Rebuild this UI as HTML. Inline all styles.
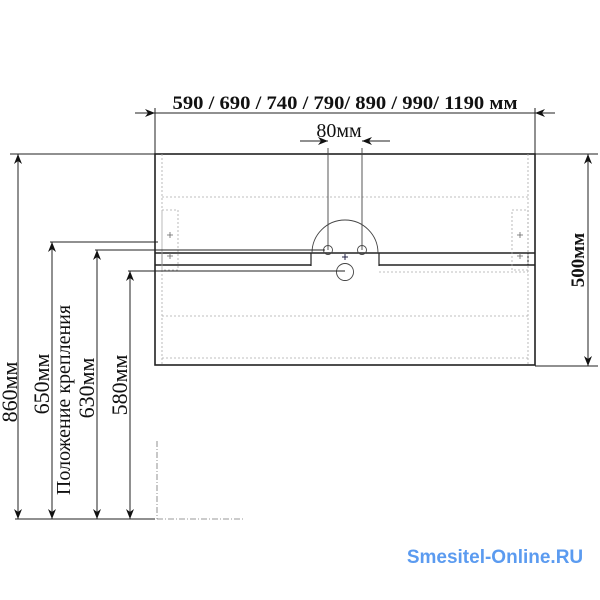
<!DOCTYPE html>
<html><head><meta charset="utf-8"><style>
body{margin:0;background:#fff;width:600px;height:600px;overflow:hidden}
svg{display:block}
text{font-family:"Liberation Serif","DejaVu Serif",serif;fill:#111}
</style></head><body>
<svg width="600" height="600" viewBox="0 0 600 600" xmlns="http://www.w3.org/2000/svg">
<defs>
<marker id="a" viewBox="0 0 10 10" refX="10" refY="5" markerWidth="10" markerHeight="10" orient="auto-start-reverse" markerUnits="userSpaceOnUse"><path d="M0,1 L10,5 L0,9 L3,5 Z" fill="#111"/></marker>
</defs>
<g stroke="#222" fill="none">
<rect x="155" y="154" width="380" height="211" stroke-width="1.6"/>
<line x1="155" y1="253" x2="535" y2="253" stroke-width="1.6"/>
<line x1="155" y1="265" x2="311" y2="265" stroke-width="1.6"/>
<line x1="379" y1="265" x2="535" y2="265" stroke-width="1.6"/>
<line x1="311" y1="253" x2="311" y2="266" stroke-width="1.2"/>
<line x1="379" y1="253" x2="379" y2="266" stroke-width="1.2"/>
<line x1="162" y1="253" x2="162" y2="265" stroke-width="1"/>
<line x1="528" y1="253" x2="528" y2="265" stroke-width="1"/>
</g>
<g stroke="#aaa" stroke-dasharray="2,2" fill="none" stroke-width="0.8">
<line x1="162" y1="197" x2="528" y2="197"/>
<line x1="162" y1="316" x2="528" y2="316"/>
<line x1="162" y1="358" x2="528" y2="358"/>
<line x1="162" y1="154" x2="162" y2="365"/>
<line x1="528" y1="154" x2="528" y2="365"/>
<rect x="162" y="210" width="16" height="60"/>
<rect x="512" y="210" width="16" height="60"/>
<line x1="379" y1="272" x2="528" y2="272"/>
</g>
<g stroke="#666" stroke-width="0.8">
<path d="M167,235 h6 M170,232 v6 M167,256 h6 M170,253 v6 M517,235 h6 M520,232 v6 M517,256 h6 M520,253 v6"/>
</g>
<g stroke="#444" fill="none" stroke-width="0.9">
<path d="M312,253 A33,33 0 0 1 378,253"/>
<line x1="328" y1="148" x2="328" y2="250"/>
<line x1="362" y1="148" x2="362" y2="250"/>
<circle cx="328" cy="250" r="4.5"/>
<circle cx="362" cy="250" r="4.5"/>
<circle cx="345" cy="272" r="8.5"/>
</g>
<path d="M342,257 h6 M345,254 v6" stroke="#224" stroke-width="1"/>
<g stroke="#222" stroke-width="1" fill="none">
<line x1="155" y1="108" x2="155" y2="154"/>
<line x1="535" y1="108" x2="535" y2="154"/>
<line x1="135" y1="113" x2="155" y2="113" marker-end="url(#a)"/>
<line x1="155" y1="113" x2="535" y2="113"/>
<line x1="555" y1="113" x2="535" y2="113" marker-end="url(#a)"/>
<line x1="300" y1="141" x2="328" y2="141" marker-end="url(#a)"/>
<line x1="390" y1="141" x2="362" y2="141" marker-end="url(#a)"/>
<line x1="535" y1="154" x2="598" y2="154"/>
<line x1="535" y1="366" x2="598" y2="366"/>
<line x1="588" y1="154" x2="588" y2="366" marker-start="url(#a)" marker-end="url(#a)"/>
<line x1="10" y1="154" x2="155" y2="154"/>
<line x1="15" y1="519" x2="155" y2="519"/>
<line x1="18" y1="154" x2="18" y2="519" marker-start="url(#a)" marker-end="url(#a)"/>
<line x1="50" y1="242" x2="158" y2="242"/>
<line x1="52" y1="242" x2="52" y2="519" marker-start="url(#a)" marker-end="url(#a)"/>
<line x1="95" y1="250" x2="325" y2="250"/>
<line x1="97" y1="250" x2="97" y2="519" marker-start="url(#a)" marker-end="url(#a)"/>
<line x1="128" y1="271" x2="345" y2="271"/>
<line x1="130" y1="271" x2="130" y2="519" marker-start="url(#a)" marker-end="url(#a)"/>
</g>
<g stroke="#777" stroke-width="0.8" stroke-dasharray="6,2,1,2" fill="none">
<line x1="157" y1="441" x2="157" y2="519"/>
<line x1="157" y1="519" x2="243" y2="519"/>
</g>
<text x="345" y="109" font-size="19" font-weight="bold" text-anchor="middle" textLength="345" lengthAdjust="spacingAndGlyphs">590 / 690 / 740 / 790/ 890 / 990/ 1190 мм</text>
<text x="339" y="137" font-size="20" text-anchor="middle">80мм</text>
<text transform="translate(584,260) rotate(-90)" font-size="19" font-weight="bold" text-anchor="middle">500мм</text>
<text transform="translate(17,392) rotate(-90)" font-size="22" text-anchor="middle">860мм</text>
<text transform="translate(49,384) rotate(-90)" font-size="22" text-anchor="middle">650мм</text>
<text transform="translate(70,400) rotate(-90)" font-size="20" text-anchor="middle">Положение крепления</text>
<text transform="translate(94,388) rotate(-90)" font-size="22" text-anchor="middle">630мм</text>
<text transform="translate(127,385) rotate(-90)" font-size="22" text-anchor="middle">580мм</text>
<text x="495" y="563" font-size="19" font-weight="bold" text-anchor="middle" style="font-family:'Liberation Sans',sans-serif;fill:#5b9bf0">Smesitel-Online.RU</text>
</svg>
</body></html>
